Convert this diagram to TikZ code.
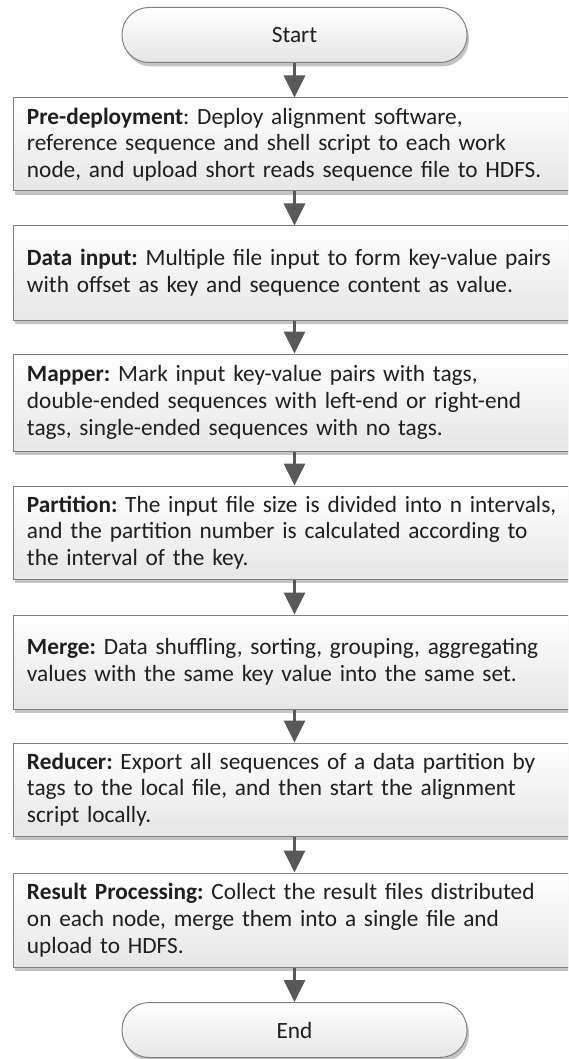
\documentclass[tikz,border=0pt]{standalone}
\usepackage{fontspec}
\setmainfont{Carlito}
\usetikzlibrary{arrows.meta,shadows}
\definecolor{edgegray}{HTML}{7F7F7F}
\definecolor{arrowgray}{HTML}{595959}
\definecolor{inkgray}{HTML}{1F1F1F}
\definecolor{shadowgray}{HTML}{C4C4C4}
\definecolor{fillbottom}{HTML}{E6E6E6}
\begin{document}
\begin{tikzpicture}[x=1pt, y=-1pt,
  base/.style={draw=edgegray, line width=1pt, top color=white, bottom color=fillbottom,
    text=inkgray, font=\fontsize{23.3}{26.7}\selectfont\frenchspacing,
    drop shadow={shadow xshift=2pt, shadow yshift=-4pt, fill=shadowgray, opacity=1}},
  procbox/.style={base, rectangle, text width=535pt, align=left, inner xsep=14pt,
    inner ysep=0pt, minimum height=#1},
  termbox/.style={base, rectangle, rounded corners=27pt, minimum width=345pt,
    minimum height=55pt, inner sep=0pt},
  flow/.style={draw=arrowgray, line width=3pt,
    -{Triangle[width=21pt, length=22pt]}}]
  \clip (0,0) rectangle (568,1059);

  \node[termbox] (start) at (294.5,35) {Start};

  \node[procbox=93pt] (predeploy) at (294.5,144.5)
    {\textbf{Pre-deployment}: Deploy alignment software,\\
     reference sequence and shell script to each work\\
     node, and upload short reads sequence file to HDFS.};

  \node[procbox=94pt] (datain) at (294.5,273)
    {\textbf{Data input:} Multiple file input to form key-value pairs\\
     with offset as key and sequence content as value.};

  \node[procbox=97pt] (mapper) at (294.5,402.5)
    {\textbf{Mapper:} Mark input key-value pairs with tags,\\
     double-ended sequences with left-end or right-end\\
     tags, single-ended sequences with no tags.};

  \node[procbox=93pt] (partition) at (294.5,532.5)
    {\textbf{Partition:} The input file size is divided into n intervals,\\
     and the partition number is calculated according to\\
     the interval of the key.};

  \node[procbox=94pt] (merge) at (294.5,662)
    {\textbf{Merge:} Data shuffling, sorting, grouping, aggregating\\
     values with the same key value into the same set.};

  \node[procbox=93pt] (reducer) at (294.5,789.5)
    {\textbf{Reducer:} Export all sequences of a data partition by\\
     tags to the local file, and then start the alignment\\
     script locally.};

  \node[procbox=94pt] (result) at (294.5,920)
    {\textbf{Result Processing:} Collect the result files distributed\\
     on each node, merge them into a single file and\\
     upload to HDFS.};

  \node[termbox] (end) at (294.5,1030) {End};

  \draw[flow] (start.south) -- (predeploy.north);
  \draw[flow] (predeploy.south) -- (datain.north);
  \draw[flow] (datain.south) -- (mapper.north);
  \draw[flow] (mapper.south) -- (partition.north);
  \draw[flow] (partition.south) -- (merge.north);
  \draw[flow] (merge.south) -- (reducer.north);
  \draw[flow] (reducer.south) -- (result.north);
  \draw[flow] (result.south) -- (end.north);
\end{tikzpicture}
\end{document}
